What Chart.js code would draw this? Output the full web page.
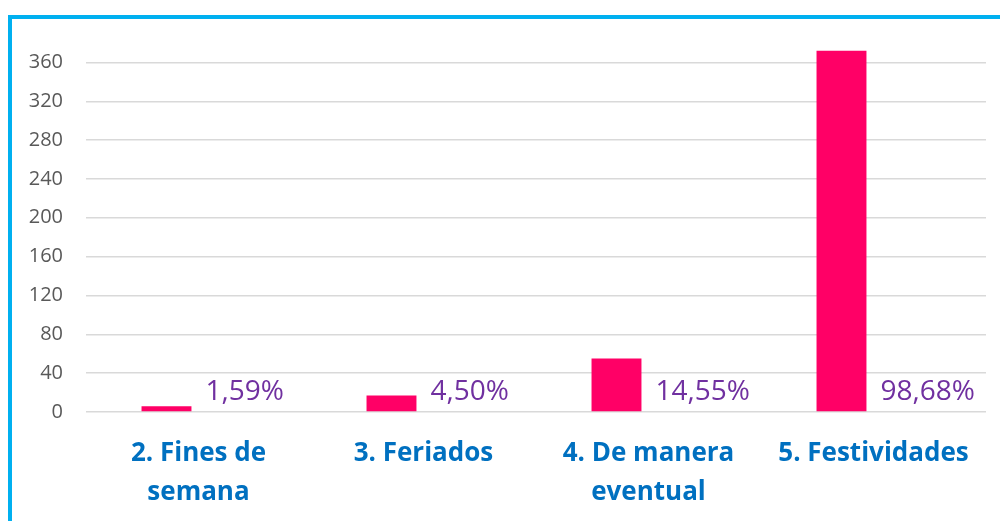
<!DOCTYPE html>
<html>
<head>
<meta charset="utf-8">
<script src="https://cdn.jsdelivr.net/npm/chart.js@4"></script>
<style>
  html, body { margin: 0; padding: 0; background: #fff; }
  #wrap { position: relative; width: 1000px; height: 521px; overflow: hidden; }
  #frame { position: absolute; left: 8px; top: 15px; width: 1100px; height: 600px;
           border-left: 4px solid #00B0F0; border-top: 4px solid #00B0F0; box-sizing: border-box; }
  #chart { position: absolute; left: 0; top: 0; }
</style>
</head>
<body>
<div id="wrap">
  <div id="frame"></div>
  <canvas id="chart" width="1000" height="521"></canvas>
</div>
<script>
// Category labels (multi-line where the original wraps)
const categories = [
  ["2. Fines de", "semana"],
  ["3. Feriados"],
  ["4. De manera", "eventual"],
  ["5. Festividades"],
];
// Number of answers per category
const counts = [6, 17, 55, 372];
// Share of answers, shown as the purple labels
const percents = [1.59, 4.50, 14.55, 98.68];
// Y axis tick labels
const yTicks = [0, 40, 80, 120, 160, 200, 240, 280, 320, 360];

const barPink = "#FF0066";
const labelPurple = "#7030A0";
const catBlue = "#0070C0";
const tickGray = "#595959";
const gridGray = "#D9D9D9";

// Draws the percentage labels next to each bar, left aligned on the (invisible) second bar
const pctLabels = {
  id: "pctLabels",
  afterDatasetsDraw(chart) {
    const { ctx } = chart;
    const meta = chart.getDatasetMeta(1);
    const y = chart.scales.y.getPixelForValue(21);
    ctx.save();
    ctx.font = "28px 'Open Sans'";
    ctx.fillStyle = labelPurple;
    ctx.textAlign = "left";
    ctx.textBaseline = "middle";
    meta.data.forEach((bar, i) => {
      const txt = percents[i].toFixed(2).replace(".", ",") + "%";
      ctx.fillText(txt, bar.x - bar.width / 2, y);
    });
    ctx.restore();
  },
};

const ctx = document.getElementById("chart").getContext("2d");
new Chart(ctx, {
  type: "bar",
  data: {
    labels: categories,
    datasets: [
      {
        label: "Respuestas",
        data: counts,
        backgroundColor: barPink,
        yAxisID: "y",
      },
      {
        label: "Porcentaje",
        data: percents,
        backgroundColor: "rgba(0,0,0,0)",
        yAxisID: "y2",
      },
    ],
  },
  options: {
    responsive: false,
    animation: false,
    categoryPercentage: 0.569,
    barPercentage: 0.78,
    layout: { padding: { top: 43, right: 14, left: 0, bottom: 0 } },
    plugins: {
      legend: { display: false },
      tooltip: { enabled: false },
    },
    scales: {
      x: {
        grid: { display: false, drawTicks: false },
        border: { display: false },
        ticks: {
          color: catBlue,
          font: { family: "'Open Sans'", size: 26, weight: "bold", lineHeight: 1.5 },
          padding: 22,
          maxRotation: 0,
          autoSkip: false,
        },
        afterFit(scale) { scale.height = 109; },
      },
      y: {
        min: 0,
        max: 380,
        grid: { color: gridGray, lineWidth: 1.5, drawTicks: false },
        border: { display: false },
        ticks: {
          color: tickGray,
          font: { family: "'Open Sans'", size: 20 },
          padding: 23,
        },
        afterBuildTicks(scale) {
          scale.ticks = yTicks.map((v) => ({ value: v }));
        },
        afterFit(scale) { scale.width = 86; },
      },
      y2: {
        display: false,
        min: 0,
        max: 100,
      },
    },
  },
  plugins: [pctLabels],
});
</script>
</body>
</html>
